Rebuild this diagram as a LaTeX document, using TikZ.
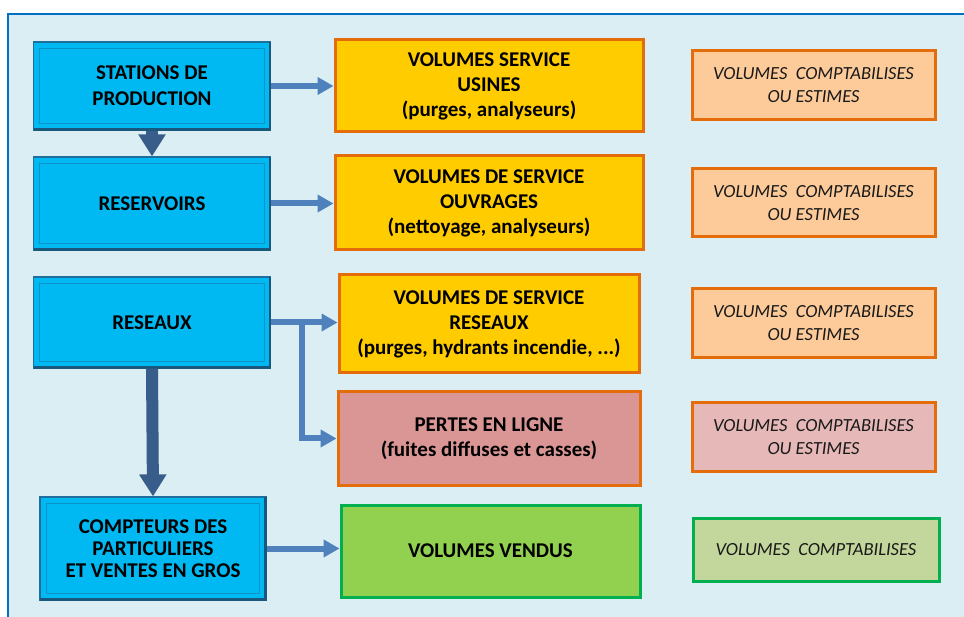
\documentclass[tikz,border=0pt]{standalone}
\usepackage{fontspec}
\setmainfont{Carlito}
\usetikzlibrary{arrows.meta}
\definecolor{panelfill}{HTML}{DAEEF3}
\definecolor{panelline}{HTML}{0070C0}
\definecolor{cyanfill}{HTML}{00B9F2}
\definecolor{cyanedge}{HTML}{1F6E9C}
\definecolor{cyaninner}{HTML}{0A93C9}
\definecolor{orangeline}{HTML}{E46C0A}
\definecolor{yellowfill}{HTML}{FFCC00}
\definecolor{peach}{HTML}{FDCB9A}
\definecolor{rosefill}{HTML}{D99694}
\definecolor{roselight}{HTML}{E6B9B8}
\definecolor{greenline}{HTML}{00B050}
\definecolor{greenfill}{HTML}{92D050}
\definecolor{greenlight}{HTML}{C3D69B}
\definecolor{darkarrow}{HTML}{385D8A}
\definecolor{lightarrow}{HTML}{4F81BD}
\tikzset{
  leftbox/.style={rectangle, fill=cyanfill, draw=cyanedge, line width=1.2pt,
    font=\bfseries\fontsize{21}{26}\selectfont, align=center, text=black, inner sep=0pt},
  midbox/.style={rectangle, fill=yellowfill, draw=orangeline, line width=3pt,
    font=\bfseries\fontsize{21}{25}\selectfont, align=center, text=black, inner sep=0pt},
  rightbox/.style={rectangle, fill=peach, draw=orangeline, line width=3pt,
    font=\itshape\fontsize{18.5}{23}\selectfont, align=center, text=black!90, inner sep=0pt},
  downarrow/.style={draw=darkarrow, line width=12pt, -{Triangle[width=26pt,length=22pt]}},
  sidearrow/.style={draw=lightarrow, line width=6pt, -{Triangle[width=17pt,length=16pt]}},
}
\newcommand{\bevel}[1]{%
  \draw[cyaninner, line width=1pt] ([xshift=7pt,yshift=-7pt]#1.north west) rectangle ([xshift=-7pt,yshift=7pt]#1.south east);
  \draw[cyanedge!80!black, line width=2.5pt] ([xshift=1pt,yshift=1pt]#1.south west) -- ([xshift=-1pt,yshift=1pt]#1.south east) -- ([xshift=-1pt,yshift=-1pt]#1.north east);
}
\begin{document}
\begin{tikzpicture}[x=1pt,y=-1pt]
\useasboundingbox (0,0) rectangle (964,617);
\fill[white] (0,0) rectangle (964,617);
\draw[fill=panelfill, draw=panelline, line width=2pt] (8,14) rectangle (975,630);

% left column
\node[leftbox, minimum width=237pt, minimum height=88pt] (st) at (152,86) {STATIONS DE\\PRODUCTION};
\node[leftbox, minimum width=237pt, minimum height=93pt] (rv) at (152,203.5) {RESERVOIRS};
\node[leftbox, minimum width=237pt, minimum height=91pt] (rs) at (152,322.5) {RESEAUX};
\node[leftbox, minimum width=226pt, minimum height=103pt, font=\bfseries\fontsize{21}{22}\selectfont] (cp) at (153,548.5) {COMPTEURS DES\\PARTICULIERS\\ET VENTES EN GROS};
\bevel{st}\bevel{rv}\bevel{rs}\bevel{cp}

% middle column
\node[midbox, minimum width=308pt, minimum height=92pt] (vu) at (489,86) {VOLUMES SERVICE\\USINES\\(purges, analyseurs)};
\node[midbox, minimum width=308pt, minimum height=94pt] (vo) at (489,203) {VOLUMES DE SERVICE\\OUVRAGES\\(nettoyage, analyseurs)};
\node[midbox, minimum width=300pt, minimum height=98pt] (vr) at (489,324) {VOLUMES DE SERVICE\\RESEAUX\\(purges, hydrants incendie, ...)};
\node[midbox, fill=rosefill, minimum width=302pt, minimum height=93pt] (pl) at (489,438.5) {PERTES EN LIGNE\\(fuites diffuses et casses)};
\node[midbox, fill=greenfill, draw=greenline, minimum width=299pt, minimum height=92pt] (vv) at (490.5,551) {VOLUMES VENDUS};

% right column
\node[rightbox, minimum width=243pt, minimum height=69pt] (r1) at (813.5,85.5) {VOLUMES~ COMPTABILISES\\OU ESTIMES};
\node[rightbox, minimum width=243pt, minimum height=68pt] (r2) at (813.5,203) {VOLUMES~ COMPTABILISES\\OU ESTIMES};
\node[rightbox, minimum width=243pt, minimum height=69pt] (r3) at (813.5,323) {VOLUMES~ COMPTABILISES\\OU ESTIMES};
\node[rightbox, fill=roselight, minimum width=243pt, minimum height=68pt] (r4) at (813.5,437) {VOLUMES~ COMPTABILISES\\OU ESTIMES};
\node[rightbox, fill=greenlight, draw=greenline, minimum width=246pt, minimum height=63pt] (r5) at (816,549.5) {VOLUMES~ COMPTABILISES};

% connectors
\draw[downarrow] (st.south) -- (rv.north);
\draw[downarrow] (rs.south) -- (cp.north);
\draw[sidearrow] (st.east) -- (st.east -| vu.west);
\draw[sidearrow] (rv.east) -- (rv.east -| vo.west);
\draw[sidearrow] (rs.east) -- (rs.east -| vr.west);
\coordinate (br) at (302,322.5);
\draw[sidearrow] (br) |- (pl.west);
\draw[sidearrow] (cp.east) -- (cp.east -| vv.west);
\end{tikzpicture}
\end{document}
